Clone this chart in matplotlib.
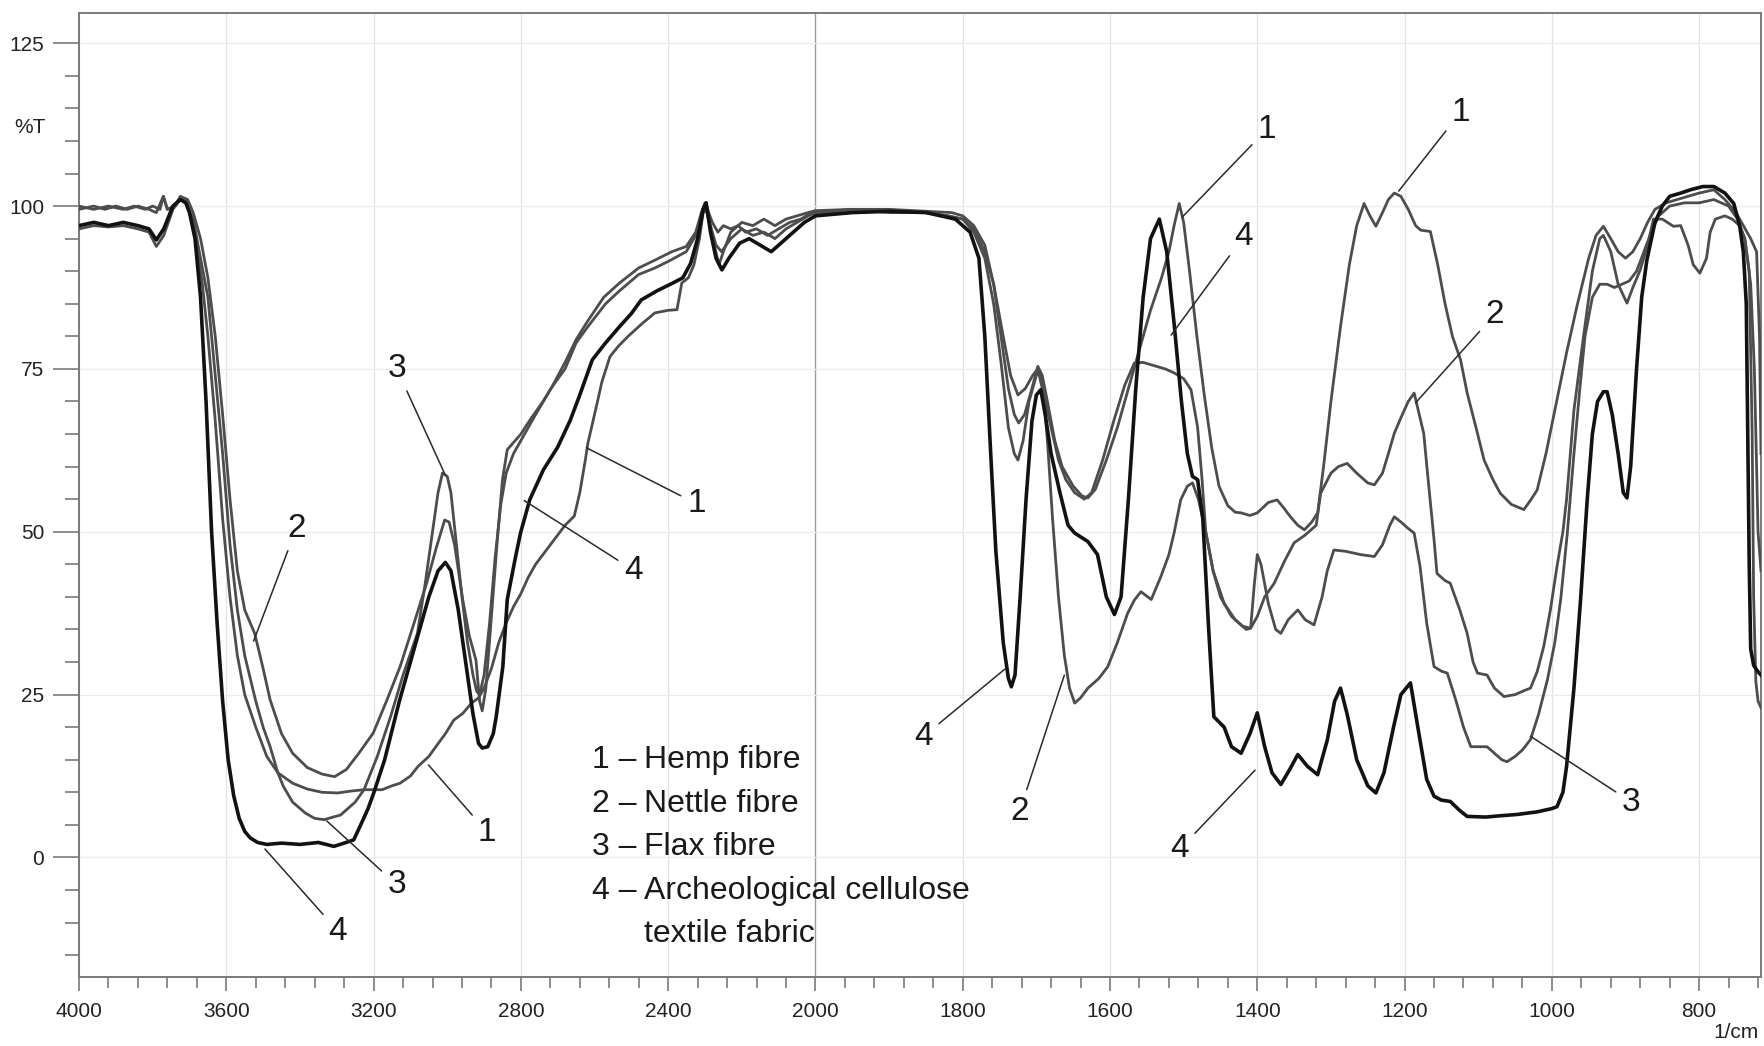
import numpy as np
import matplotlib
matplotlib.use("Agg")
import matplotlib.pyplot as plt
from matplotlib import font_manager

# ---------------- data ----------------
hemp_wn = [4000, 3960, 3920, 3880, 3850, 3820, 3800, 3780, 3771, 3760, 3740, 3725, 3710, 3695, 3680, 3665, 3650, 3630, 3610, 3590, 3570, 3550, 3520, 3490, 3460, 3420, 3380, 3340, 3298, 3260, 3226, 3177, 3150, 3128, 3100, 3079, 3050, 3031, 3005, 2982, 2958, 2934, 2915, 2900, 2880, 2860, 2840, 2820, 2800, 2780, 2760, 2740, 2720, 2700, 2680, 2655, 2640, 2625, 2618, 2600, 2580, 2558, 2535, 2509, 2470, 2436, 2400, 2376, 2363, 2345, 2330, 2315, 2305, 2297, 2290, 2280, 2265, 2250, 2230, 2210, 2190, 2160, 2130, 2100, 2070, 2040, 2010, 2000, 1950, 1900, 1850, 1815, 1800, 1785, 1770, 1758, 1748, 1738, 1730, 1724, 1716, 1706, 1698, 1692, 1685, 1675, 1665, 1650, 1638, 1630, 1620, 1605, 1590, 1575, 1560, 1545, 1530, 1520, 1513, 1506, 1500, 1492, 1482, 1472, 1462, 1452, 1440, 1430, 1422, 1410, 1400, 1385, 1373, 1363, 1355, 1345, 1336, 1326, 1318, 1310, 1300, 1287, 1275, 1265, 1255, 1247, 1239, 1230, 1222, 1214, 1205, 1195, 1185, 1178, 1165, 1155, 1145, 1135, 1124, 1115, 1103, 1092, 1080, 1070, 1055, 1038, 1028, 1020, 1008, 993, 980, 966, 950, 940, 930, 920, 910, 900, 890, 880, 870, 860, 845, 830, 815, 800, 780, 765, 750, 740, 730, 722, 718, 716]
hemp_T = [100, 99.5, 100, 99.5, 100, 99.5, 100, 99.5, 101.5, 99.5, 100, 101, 101, 98, 94, 88, 80, 67, 52, 40, 31, 25, 20, 15.5, 13, 11.4, 10.5, 10, 9.9, 10.2, 10.4, 10.4, 11, 11.4, 12.5, 14, 15.5, 17, 19, 21.1, 22.1, 23.7, 24.5, 26, 29, 33, 36, 38.5, 40.5, 43, 45, 46.5, 48, 49.5, 51, 52.4, 56, 61, 63.6, 68, 73, 76.9, 78.5, 80, 82, 83.6, 84, 84.1, 88.2, 89, 91, 95, 99, 100.5, 99, 97.5, 96, 97, 96.5, 97, 96, 96.5, 95.5, 96.5, 97.5, 98, 99, 99, 99.5, 99.5, 99.2, 99, 98.5, 97, 94, 88, 80, 72, 68, 66.7, 68, 72, 75.4, 74, 70, 64, 60, 57, 55.5, 55.2, 56.5, 61, 66, 72, 78, 84, 89, 93, 97, 100.4, 97.5, 90, 80, 71, 63, 57, 54, 53, 52.9, 52.5, 52.9, 54.5, 54.9, 53.5, 52.3, 51, 50.3, 51.5, 52.9, 60, 70, 81.5, 91, 97, 100.4, 98.5, 96.9, 99, 101, 102, 101.5, 99.5, 97, 96.3, 96.1, 91, 85, 80, 76.4, 71.3, 66, 61, 58, 55.9, 54.2, 53.4, 55, 56.4, 62, 70.3, 77.5, 84.6, 92, 95.5, 96.9, 95, 93, 92, 93, 95, 97.5, 99.5, 100.5, 101, 101.5, 102, 102.5, 101, 99, 97, 95, 93, 80, 62]

nettle_wn = [4000, 3960, 3930, 3900, 3870, 3840, 3810, 3790, 3771, 3760, 3740, 3725, 3705, 3690, 3670, 3650, 3630, 3610, 3590, 3570, 3550, 3523, 3500, 3481, 3450, 3420, 3380, 3340, 3306, 3274, 3240, 3201, 3165, 3128, 3090, 3056, 3030, 3007, 2995, 2980, 2958, 2940, 2922, 2912, 2905, 2895, 2880, 2865, 2850, 2837, 2800, 2776, 2740, 2716, 2680, 2650, 2618, 2575, 2532, 2480, 2436, 2390, 2351, 2325, 2310, 2300, 2290, 2275, 2262, 2250, 2230, 2200, 2170, 2140, 2110, 2080, 2050, 2020, 2000, 1950, 1900, 1850, 1820, 1800, 1785, 1770, 1758, 1745, 1735, 1725, 1715, 1705, 1698, 1692, 1685, 1678, 1670, 1662, 1655, 1648, 1640, 1630, 1615, 1603, 1590, 1576, 1567, 1558, 1544, 1531, 1520, 1513, 1504, 1495, 1488, 1480, 1470, 1460, 1445, 1430, 1415, 1409, 1400, 1390, 1377, 1363, 1350, 1335, 1320, 1314, 1300, 1290, 1278, 1265, 1250, 1241, 1230, 1222, 1214, 1205, 1195, 1187, 1180, 1174, 1168, 1160, 1156, 1145, 1138, 1125, 1115, 1107, 1101, 1088, 1078, 1065, 1050, 1040, 1029, 1020, 1011, 1002, 993, 985, 980, 970, 957, 945, 935, 930, 920, 910, 898, 890, 880, 870, 862, 850, 835, 825, 815, 808, 799, 790, 785, 778, 765, 755, 745, 738, 730, 725, 720, 716]
nettle_T = [99.5, 100, 99.5, 100, 99.5, 100, 99.5, 99, 101.5, 99.5, 100, 101.5, 101, 99, 95, 89, 80, 68, 55, 44, 38, 34.4, 29, 24.2, 19, 16, 13.8, 12.8, 12.4, 13.5, 16, 19.1, 24, 29.3, 36, 42.1, 47.5, 51.8, 51.5, 48, 39.6, 34, 30.3, 24, 22.5, 26, 37, 48, 58, 62.6, 65, 67.1, 70, 72.2, 76, 79.5, 82.4, 86, 88.2, 90.5, 91.7, 93, 93.8, 96, 99, 100.5, 98, 94, 91, 93, 96, 97.5, 97, 98, 97, 98, 98.5, 99, 99.3, 99.5, 99, 99, 98.5, 98, 96.5, 93, 88, 80, 74, 71, 72, 74, 75, 73, 64, 52, 40, 31, 26, 23.7, 24.5, 26, 27.5, 29.3, 33, 37.5, 39.5, 40.8, 39.6, 43.1, 46.5, 49.8, 54.9, 57, 57.5, 55, 50, 44, 39, 36.5, 35, 35.2, 37, 40, 42.1, 45.5, 48.3, 49.5, 51, 55.9, 59, 60, 60.5, 59, 57.5, 57.2, 59, 62, 65.1, 67.5, 70, 71.3, 68, 65.1, 58, 48.8, 43.6, 42.5, 42.1, 38, 34.4, 30, 28.3, 28, 26, 24.7, 25, 25.5, 26, 28.5, 32.4, 38, 44.7, 50, 55, 68.7, 80, 90, 95, 95.5, 93, 88, 85.1, 87.5, 90.2, 94, 98, 98, 96.9, 97, 94, 91, 89.7, 92, 96, 98, 98.5, 98, 97, 95, 88, 75, 50, 44]

flax_wn = [4000, 3960, 3920, 3880, 3840, 3810, 3790, 3770, 3745, 3725, 3710, 3690, 3670, 3650, 3630, 3610, 3590, 3570, 3550, 3520, 3500, 3481, 3460, 3445, 3420, 3385, 3360, 3334, 3310, 3290, 3270, 3250, 3226, 3190, 3154, 3120, 3081, 3060, 3040, 3025, 3013, 3000, 2990, 2975, 2960, 2945, 2930, 2920, 2912, 2900, 2885, 2870, 2855, 2840, 2820, 2790, 2760, 2716, 2680, 2650, 2618, 2570, 2532, 2480, 2436, 2400, 2351, 2320, 2305, 2297, 2285, 2270, 2255, 2230, 2200, 2170, 2140, 2110, 2080, 2050, 2020, 2000, 1950, 1900, 1850, 1820, 1800, 1785, 1770, 1758, 1748, 1738, 1730, 1725, 1718, 1710, 1700, 1697, 1690, 1680, 1670, 1660, 1648, 1635, 1625, 1610, 1595, 1580, 1567, 1555, 1540, 1525, 1513, 1500, 1490, 1481, 1475, 1470, 1460, 1450, 1435, 1420, 1409, 1404, 1400, 1395, 1385, 1375, 1368, 1358, 1345, 1335, 1323, 1312, 1305, 1296, 1280, 1260, 1241, 1230, 1220, 1214, 1205, 1195, 1187, 1179, 1170, 1160, 1150, 1142, 1130, 1120, 1110, 1100, 1088, 1078, 1068, 1061, 1050, 1040, 1029, 1018, 1006, 996, 988, 979, 970, 962, 955, 945, 935, 925, 915, 905, 895, 885, 875, 865, 855, 840, 820, 800, 780, 760, 748, 738, 732, 728, 726, 723, 720, 716]
flax_T = [96.5, 97, 96.8, 97, 96.5, 96, 93.8, 95.5, 99.5, 101, 100.5, 98, 92, 86, 74, 62, 48, 38, 31, 24, 20, 17, 13, 10.9, 8.5, 6.8, 6, 5.8, 6.2, 6.5, 7.5, 8.5, 10.4, 15.5, 21.6, 28, 34.4, 42, 50, 56, 59, 58.5, 56, 48, 40, 33, 28, 25.5, 25, 28, 36, 46, 54, 59, 62, 65, 68, 72.2, 75, 79, 81.5, 85, 87, 89.5, 90.5, 91.5, 93, 96, 99, 99.5, 97, 94, 93, 95, 96.5, 95.5, 96, 95, 96.5, 97.5, 98.5, 99, 99, 99.3, 99, 98.5, 98, 96, 92, 85, 76, 66, 62, 61, 64, 70, 74, 74.5, 71, 66, 61, 58, 56, 55, 56, 61, 67, 72.5, 75.9, 76, 75.5, 75, 74.4, 73.5, 71.8, 66, 58, 50, 44, 40, 37, 35.5, 35.2, 42, 46.5, 45, 39, 35, 34.4, 36.5, 38, 36.5, 35.7, 40, 44, 47.2, 47, 46.5, 46.2, 48, 51, 52.3, 51.5, 50.5, 49.8, 44.7, 36, 29.3, 28.6, 28.3, 24, 20, 17, 17, 17, 16, 15, 14.7, 15.5, 16.5, 18.1, 22, 27.3, 33, 39.6, 49.8, 62, 72, 80, 86, 88, 88, 87.5, 88, 88.5, 90, 93, 96, 98.5, 100, 100.5, 100.5, 101, 100, 98, 95, 90, 65, 40, 27, 24, 23]

arch_wn = [4000, 3960, 3920, 3880, 3840, 3810, 3790, 3770, 3745, 3725, 3710, 3700, 3685, 3670, 3655, 3640, 3625, 3610, 3595, 3580, 3565, 3550, 3535, 3515, 3490, 3450, 3400, 3350, 3308, 3280, 3254, 3235, 3215, 3199, 3170, 3130, 3090, 3050, 3025, 3005, 2990, 2970, 2950, 2930, 2915, 2905, 2890, 2875, 2867, 2849, 2837, 2815, 2801, 2776, 2739, 2700, 2666, 2640, 2606, 2570, 2532, 2500, 2473, 2430, 2387, 2360, 2339, 2320, 2305, 2297, 2285, 2270, 2254, 2235, 2206, 2180, 2150, 2120, 2090, 2060, 2030, 2000, 1950, 1900, 1850, 1810, 1790, 1778, 1770, 1762, 1755, 1745, 1738, 1734, 1729, 1722, 1714, 1706, 1700, 1694, 1688, 1680, 1668, 1657, 1648, 1630, 1617, 1605, 1594, 1585, 1575, 1565, 1555, 1545, 1533, 1523, 1513, 1503, 1495, 1488, 1481, 1474, 1466, 1459, 1445, 1435, 1422, 1410, 1400, 1390, 1380, 1368, 1356, 1345, 1332, 1318, 1305, 1295, 1287, 1278, 1265, 1250, 1239, 1228, 1215, 1205, 1192, 1182, 1170, 1160, 1150, 1138, 1125, 1115, 1090, 1070, 1047, 1020, 1000, 993, 985, 980, 970, 961, 952, 945, 938, 930, 925, 918, 910, 903, 898, 893, 885, 878, 871, 860, 850, 840, 825, 812, 795, 780, 765, 753, 745, 740, 736, 734, 732, 730, 726, 720, 716]
arch_T = [97, 97.5, 97, 97.5, 97, 96.5, 94.8, 96.5, 100, 101, 100.5, 99, 95, 86, 70, 50, 36, 24, 15, 9.5, 6, 4, 3, 2.3, 2, 2.2, 2, 2.3, 1.7, 2.2, 2.7, 5, 7.5, 10, 15, 24, 32, 40, 44, 45.3, 44, 38, 30, 22, 17.5, 16.8, 17, 19, 21.6, 29.3, 39.6, 46, 49.8, 54.9, 59.5, 63, 67.1, 71, 76.4, 79, 81.5, 83.5, 85.6, 87, 88.2, 89, 91.2, 95, 99.5, 100.5, 96, 92, 90.2, 92, 94.3, 95, 94, 93, 94.5, 96, 97.5, 98.5, 99, 99.2, 99, 98, 96, 92, 80, 62, 47, 33, 27.5, 26.2, 28, 40, 55, 67, 71, 71.8, 68, 62, 56, 51, 49.8, 48.5, 46.5, 40, 37.3, 40, 55, 72, 86, 95, 98, 93, 82, 70, 62, 58.5, 58, 52, 35, 21.6, 20, 17, 16, 19, 22.2, 17, 13, 11.2, 13.5, 15.8, 14, 12.7, 18, 24, 26, 22, 15, 11, 9.9, 13, 20, 25, 26.8, 20, 12, 9.4, 8.8, 8.6, 7.2, 6.3, 6.2, 6.4, 6.6, 7, 7.5, 7.8, 10, 14, 26, 39.6, 54.9, 65, 70, 71.5, 71.5, 68, 62, 56, 55.2, 60, 75, 86, 91.7, 97.5, 100, 101.5, 102, 102.5, 103, 103, 102, 100.4, 97, 93, 85, 65, 45, 32, 29.5, 28.5, 28]

# x-axis ticks (wavenumber, 1/cm) and y-axis ticks (%T)
x_major = [4000, 3600, 3200, 2800, 2400, 2000, 1800, 1600, 1400, 1200, 1000, 800]
y_major = [0, 25, 50, 75, 100, 125]

# labels on the curves: (text, text position, point)
curve_labels = [
    ("3", (3137, 75.0), (3006, 58.8)),
    ("2", (3410, 50.5), (3526, 33.2)),
    ("1", (2323, 54.3), (2622, 62.9)),
    ("4", (2494, 44.1), (2791, 54.8)),
    ("1", (2892, 3.9), (3051, 14.2)),
    ("3", (3137, -4.2), (3327, 5.6)),
    ("4", (3297, -11.3), (3495, 1.3)),
    ("1", (1387, 111.8), (1502, 98.3)),
    ("1", (1124, 114.4), (1208, 102.3)),
    ("4", (1418, 95.4), (1517, 80.2)),
    ("2", (1078, 83.3), (1185, 69.8)),
    ("4", (1853, 18.6), (1743, 28.9)),
    ("2", (1723, 7.0), (1662, 28.0)),
    ("4", (1505, 1.3), (1403, 13.4)),
    ("3", (892, 8.5), (1029, 18.6)),
]

legend_nums = ["1 \u2013", "2 \u2013", "3 \u2013", "4 \u2013", ""]
legend_names = ["Hemp fibre", "Nettle fibre", "Flax fibre", "Archeological cellulose", "textile fabric"]

# ---------------- style ----------------
names = {f.name for f in font_manager.fontManager.ttflist}
FONT = "Liberation Sans Narrow" if "Liberation Sans Narrow" in names else "Liberation Sans"
plt.rcParams["font.family"] = [FONT, "DejaVu Sans"]

GRAY = "#4d4d4d"
BLACK = "#121212"
AXC = "#7a7a7a"
TXT = "#1a1a1a"


def fwd(w):
    w = np.asarray(w, dtype=float)
    return np.where(w >= 2000, w / 2.0 + 1000.0, w)


def inv(t):
    t = np.asarray(t, dtype=float)
    return np.where(t >= 2000, (t - 1000.0) * 2.0, t)


fig = plt.figure(figsize=(17.64, 10.46), dpi=100)
ax = fig.add_axes([0.0448, 0.0663, 0.9535, 0.921])
ax.set_xscale("function", functions=(fwd, inv))
ax.set_xlim(4000, 716)
ax.set_ylim(-18.3, 129.6)

# grid
for w in x_major:
    ax.axvline(w, color="#e4e4e4" if w != 2000 else "#9c9c9c", lw=0.9 if w != 2000 else 1.0, zorder=0)
for v in y_major:
    ax.axhline(v, color="#ececec", lw=0.9, zorder=0)

# spectra
ax.plot(hemp_wn, hemp_T, color=GRAY, lw=2.0, solid_joinstyle="round", zorder=3)
ax.plot(nettle_wn, nettle_T, color=GRAY, lw=2.0, solid_joinstyle="round", zorder=3)
ax.plot(flax_wn, flax_T, color=GRAY, lw=2.0, solid_joinstyle="round", zorder=3)
ax.plot(arch_wn, arch_T, color=BLACK, lw=2.6, solid_joinstyle="round", zorder=4)

# curve labels with leader lines
for txt, tpos, pt in curve_labels:
    ax.annotate(txt, xy=pt, xytext=tpos, fontsize=24, color=TXT,
                ha="center", va="center", zorder=5,
                arrowprops=dict(arrowstyle="-", color="#2a2a2a", lw=1.1,
                                shrinkA=3, shrinkB=0))

# legend block
leg_y = [14.9, 8.2, 1.6, -5.1, -11.7]
for num, name, yy in zip(legend_nums, legend_names, leg_y):
    if num:
        ax.text(2608, yy, num, fontsize=23, color=TXT, ha="left", va="center")
    ax.text(2466, yy, name, fontsize=23, color=TXT, ha="left", va="center")

# ticks
minor_x = [w for w in list(np.arange(3920, 2000, -80)) + list(np.arange(1960, 700, -40))
           if w not in x_major]
ax.set_xticks(x_major, labels=[str(w) for w in x_major])
ax.set_xticks(minor_x, minor=True)
ax.set_yticks(y_major, labels=[str(v) for v in y_major])
ax.set_yticks(np.arange(-15, 130, 5), minor=True)

ax.tick_params(axis="x", which="major", direction="out", length=10, width=1.2,
               color=AXC, labelsize=15, pad=8, labelcolor="#222222")
ax.tick_params(axis="x", which="minor", direction="out", length=8, width=1.2, color=AXC)
ax.tick_params(axis="y", which="major", direction="out", length=19, width=1.2,
               color=AXC, labelsize=15, pad=6, labelcolor="#222222")
ax.tick_params(axis="y", which="minor", direction="out", length=10, width=1.2, color=AXC)

for s in ax.spines.values():
    s.set_color(AXC)
    s.set_linewidth(1.4)

ax.text(-0.029, 112, "%T", transform=ax.get_yaxis_transform(), ha="center",
        va="center", fontsize=15, color="#222222")
fig.text(0.997, 0.004, "1/cm", ha="right", va="bottom", fontsize=15, color="#222222")

fig.savefig("out.png", dpi=100, facecolor="white")
